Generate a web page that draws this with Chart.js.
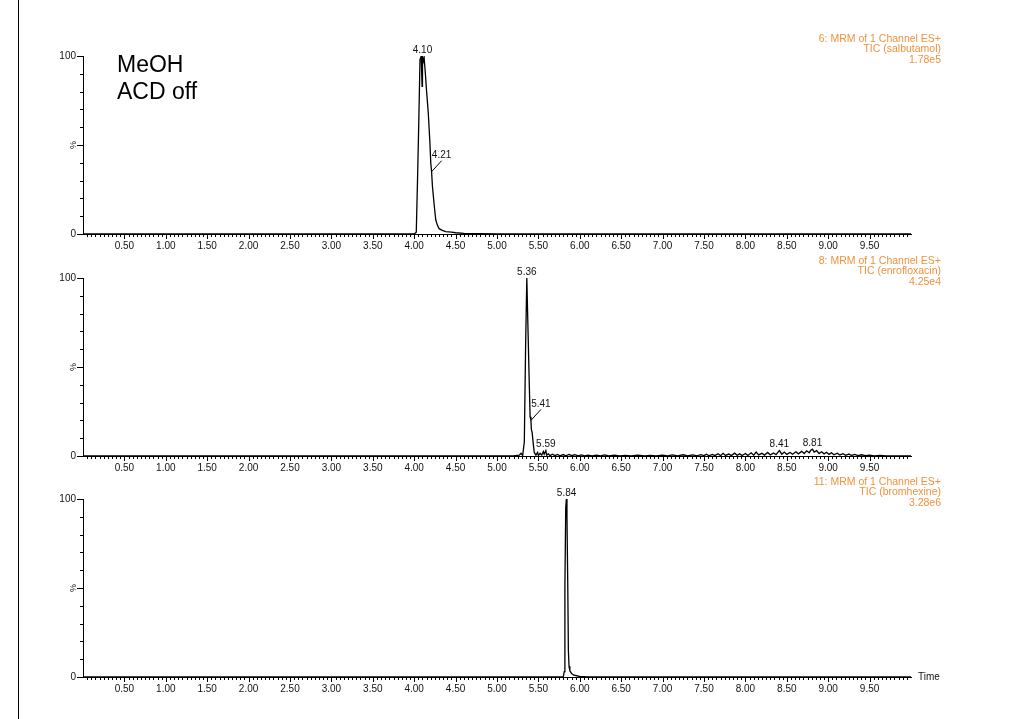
<!DOCTYPE html>
<html>
<head>
<meta charset="utf-8">
<script src="https://cdn.jsdelivr.net/npm/chart.js@4.4.0/dist/chart.umd.min.js"></script>
<style>
    body { margin: 0; background: #fff; width: 1018px; height: 719px; overflow: hidden; position: relative; }
    #vienTrai { position: absolute; left: 18px; top: 0; width: 1px; height: 719px; background: #000; }
    canvas { position: absolute; left: 0; }
</style>
</head>
<body>
<div id="vienTrai"></div>
<canvas id="kenh6" width="1018" height="260" style="top:0px"></canvas>
<canvas id="kenh8" width="1018" height="260" style="top:222px"></canvas>
<canvas id="kenh11" width="1018" height="260" style="top:443px"></canvas>
<script>
// ===== du lieu doc tu hinh (thoi gian: phut, cuong do: %) =====
const thoiGianSalbutamol = [0, 4.00, 4.025, 4.04, 4.055, 4.07, 4.085, 4.095, 4.10, 4.11, 4.12, 4.135, 4.15, 4.17, 4.19, 4.20, 4.21, 4.22, 4.24, 4.26, 4.28, 4.30, 4.34, 4.38, 4.45, 4.50, 4.60, 4.80, 5.00, 10];
const cuongDoSalbutamol  = [0, 0,    1,     30,   62,    98,   100,   83,    100,  97,   99,   90,    80,   68,   51,   40,   35,   27,   17,   8,    5,    3,    2,    1.3,  1,    0.7,  0.4,  0.2,  0,    0];

const thoiGianEnro = [0, 5.20, 5.27, 5.29, 5.31, 5.33, 5.345, 5.36, 5.375, 5.39, 5.40, 5.41, 5.415, 5.425, 5.44,
    5.45, 5.47, 5.49, 5.50, 5.52, 5.54, 5.56, 5.57, 5.59, 5.60, 5.62, 5.64, 5.67, 5.70, 5.73, 5.76, 5.80, 5.83, 5.87, 5.90, 5.94, 5.98,
    6.02, 6.06, 6.10, 6.15, 6.20, 6.25, 6.30, 6.35, 6.42, 6.48, 6.55, 6.62, 6.70, 6.78, 6.85, 6.92, 7.00, 7.06, 7.12, 7.18, 7.25, 7.30, 7.36, 7.42, 7.46,
    7.50, 7.53, 7.56, 7.60, 7.63, 7.67, 7.70, 7.73, 7.76, 7.80, 7.83, 7.87, 7.90, 7.93, 7.96, 8.00, 8.03, 8.07, 8.10, 8.13, 8.16, 8.20, 8.23, 8.27, 8.30, 8.34, 8.37,
    8.41, 8.44, 8.47, 8.50, 8.54, 8.57, 8.61, 8.64, 8.68, 8.71, 8.74, 8.77, 8.79, 8.81, 8.83, 8.86, 8.89, 8.92, 8.95, 8.98,
    9.01, 9.04, 9.07, 9.11, 9.14, 9.18, 9.21, 9.25, 9.28, 9.32, 9.36, 9.40, 9.45, 9.50, 9.56, 9.62, 9.70, 10];
const cuongDoEnro  = [0, 0, 0.5, 1.5, 0.3, 8, 60, 100, 70, 40, 22, 20, 15, 13, 6,
    2, 0.5, 2, 0.3, 1.5, 0.5, 2.5, 1, 3, 0.5, 1.2, 0.2, 1, 0.2, 0.9, 0.1, 0.8, 0.1, 0.9, 0.2, 0.7, 0.1,
    0.6, 0.1, 0.5, 0, 0.5, 0.1, 0.6, 0, 0.5, 0.1, 0.4, 0, 0.5, 0.1, 0.4, 0, 0.5, 0.1, 0.6, 0.1, 0.7, 0.1, 0.6, 0.1, 0.8,
    0.2, 1.0, 0.1, 0.9, 0.2, 1.3, 0.2, 1.5, 0.3, 1.1, 0.2, 1.6, 0.4, 1.2, 0.3, 1.4, 0.3, 1.8, 0.5, 2.2, 0.6, 1.5, 0.5, 2.0, 0.6, 1.7, 0.8,
    3.0, 1.0, 2.2, 0.9, 2.0, 1.0, 2.4, 1.2, 2.6, 1.4, 2.9, 1.8, 3.2, 3.8, 2.2, 3.0, 1.4, 2.4, 1.2, 2.1,
    0.9, 1.8, 0.7, 1.6, 0.6, 1.3, 0.4, 1.1, 0.3, 0.9, 0.2, 0.7, 0.2, 0.5, 0.1, 0.3, 0, 0];

const thoiGianBrom = [0, 5.80, 5.812, 5.82, 5.83, 5.838, 5.845, 5.855, 5.862, 5.87, 5.88, 5.90, 5.93, 6.00, 6.10, 10];
const cuongDoBrom  = [0, 0,    3,     50,   95,   100,   90,    50,    15,    6,    3.5,  2,    1,    0.3,  0,    0];

// dinh duoc ghi nhan
const dinhSalbutamol = [4.10, 4.21];
const dinhCaoSalbutamol = [100, 35];
const dinhEnro = [5.36, 5.41, 5.59, 8.41, 8.81];
const dinhCaoEnro = [100, 20, 3, 3, 3.8];
const dinhBrom = [5.84];
const dinhCaoBrom = [100];

const nhanTrucX = ['0.50', '1.00', '1.50', '2.00', '2.50', '3.00', '3.50', '4.00', '4.50', '5.00', '5.50', '6.00', '6.50', '7.00', '7.50', '8.00', '8.50', '9.00', '9.50'];
const nhanTrucY = ['0', '100'];

const FONT = '"Liberation Sans", Arial, sans-serif';

function ghepDiem(xs, ys) {
    return xs.map((x, i) => ({ x: x, y: ys[i] }));
}

const pluginSacKy = {
    id: 'sacKy',
    afterDraw(chart, args, opts) {
        const ctx = chart.ctx;
        const sx = chart.scales.x, sy = chart.scales.y;
        const a = chart.chartArea;
        ctx.save();
        ctx.strokeStyle = '#000';
        ctx.lineWidth = 1;
        ctx.beginPath();
        // vach nho truc thoi gian
        for (let i = 1; i < 200; i++) {
            const px = Math.round(sx.getPixelForValue(i * 0.05)) + 0.5;
            const dai = i % 10 === 0 ? 5 : 3;
            ctx.moveTo(px, a.bottom);
            ctx.lineTo(px, a.bottom + dai);
        }
        // vach truc %
        for (let v = 0; v <= 100; v += 10) {
            const py = Math.round(sy.getPixelForValue(v)) + 0.5;
            const dai = v % 50 === 0 ? 6 : 3;
            ctx.moveTo(a.left, py);
            ctx.lineTo(a.left - dai, py);
        }
        ctx.stroke();

        // dau % xoay doc
        ctx.fillStyle = '#111';
        ctx.font = `9px ${FONT}`;
        ctx.save();
        ctx.translate(a.left - 9, sy.getPixelForValue(50));
        ctx.rotate(-Math.PI / 2);
        ctx.textAlign = 'center';
        ctx.textBaseline = 'middle';
        ctx.fillText('%', 0, 0);
        ctx.restore();

        // nhan dinh
        ctx.font = `10px ${FONT}`;
        ctx.textAlign = 'center';
        ctx.textBaseline = 'bottom';
        opts.dinh.forEach((t, i) => {
            const px = sx.getPixelForValue(t);
            const py = sy.getPixelForValue(opts.dinhCao[i]);
            const nhan = t.toFixed(2);
            if (opts.dinhCao[i] < 50 && opts.dinhCao[i] > 10) {
                // co duong dan
                ctx.beginPath();
                ctx.moveTo(px, py);
                ctx.lineTo(px + 10, py - 11);
                ctx.stroke();
                ctx.fillText(nhan, px + 10, py - 11);
            } else {
                ctx.fillText(nhan, px, py - 1);
            }
        });

        // thong tin kenh (mau cam)
        ctx.fillStyle = 'rgb(238,146,62)';
        ctx.font = `10.5px ${FONT}`;
        ctx.textAlign = 'right';
        ctx.textBaseline = 'middle';
        opts.thongTin.forEach((dong, i) => {
            ctx.fillText(dong, 941, 39 + i * 10.5);
        });

        if (opts.ghiChu) {
            ctx.fillStyle = '#000';
            ctx.textAlign = 'left';
            ctx.textBaseline = 'alphabetic';
            ctx.font = `23px ${FONT}`;
            opts.ghiChu.forEach((dong, i) => ctx.fillText(dong, 117, 72 + i * 26.5));
        }
        if (opts.nhanThoiGian) {
            ctx.fillStyle = '#111';
            ctx.textAlign = 'left';
            ctx.textBaseline = 'middle';
            ctx.font = `10px ${FONT}`;
            ctx.fillText(opts.nhanThoiGian, a.right + 7, a.bottom);
        }
        ctx.restore();
    }
};

function veSacKy(id, thoiGian, cuongDo, thongTin, dinh, dinhCao, them) {
    const ctx = document.getElementById(id).getContext('2d');
    new Chart(ctx, {
        type: 'scatter',
        data: {
            datasets: [{
                data: ghepDiem(thoiGian, cuongDo),
                showLine: true,
                borderColor: '#000',
                borderWidth: 1.3,
                pointRadius: 0,
                tension: 0
            }]
        },
        options: {
            responsive: false,
            animation: false,
            layout: { padding: { left: 0, right: 107, top: 56, bottom: 0 } },
            scales: {
                x: {
                    type: 'linear',
                    min: 0,
                    max: 10,
                    afterFit: s => { s.height = 26; },
                    grid: { display: false, drawTicks: false },
                    border: { display: true, color: '#000', width: 1 },
                    ticks: {
                        stepSize: 0.5,
                        autoSkip: false,
                        maxRotation: 0,
                        padding: 6,
                        color: '#111',
                        font: { family: FONT, size: 10 },
                        callback: (v, i) => nhanTrucX[i - 1] || ''
                    }
                },
                y: {
                    min: 0,
                    max: 100,
                    afterFit: s => { s.width = 83; },
                    grid: { display: false, drawTicks: false },
                    border: { display: true, color: '#000', width: 1 },
                    ticks: {
                        stepSize: 50,
                        padding: 7,
                        color: '#111',
                        font: { family: FONT, size: 10 },
                        callback: (v) => v === 0 ? nhanTrucY[0] : (v === 100 ? nhanTrucY[1] : '')
                    }
                }
            },
            plugins: {
                legend: { display: false },
                tooltip: { enabled: false },
                sacKy: Object.assign({ thongTin: thongTin, dinh: dinh, dinhCao: dinhCao }, them || {})
            }
        },
        plugins: [pluginSacKy]
    });
}

veSacKy('kenh6', thoiGianSalbutamol, cuongDoSalbutamol,
    ['6: MRM of 1 Channel ES+', 'TIC (salbutamol)', '1.78e5'],
    dinhSalbutamol, dinhCaoSalbutamol, { ghiChu: ['MeOH', 'ACD off'] });
veSacKy('kenh8', thoiGianEnro, cuongDoEnro,
    ['8: MRM of 1 Channel ES+', 'TIC (enrofloxacin)', '4.25e4'],
    dinhEnro, dinhCaoEnro);
veSacKy('kenh11', thoiGianBrom, cuongDoBrom,
    ['11: MRM of 1 Channel ES+', 'TIC (bromhexine)', '3.28e6'],
    dinhBrom, dinhCaoBrom, { nhanThoiGian: 'Time' });
</script>
</body>
</html>
